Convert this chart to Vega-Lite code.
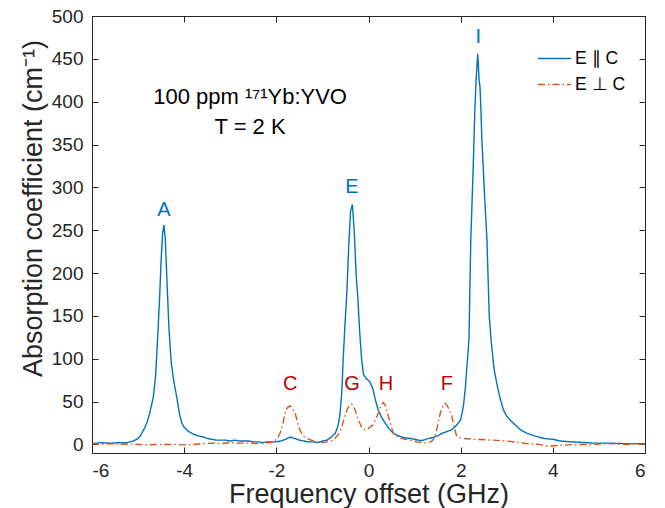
{
  "$schema": "https://vega.github.io/schema/vega-lite/v6.json",
  "width": 553,
  "height": 437,
  "autosize": {"type": "none"},
  "padding": {"left": 92, "top": 16, "right": 20, "bottom": 55},
  "background": "white",
  "config": {
    "font": "Liberation Sans",
    "view": {"stroke": "#262626", "strokeWidth": 1},
    "axis": {
      "grid": false,
      "domainColor": "#262626",
      "tickColor": "#262626",
      "labelColor": "#262626",
      "titleColor": "#262626",
      "labelFont": "Liberation Sans",
      "titleFont": "Liberation Sans",
      "labelFontSize": 19,
      "titleFontSize": 27,
      "titleFontWeight": "normal",
      "tickSize": -6,
      "labelPadding": 14
    }
  },
  "datasets": {
    "spec": [
      {"f": -6.0, "a": 1, "s": "E ∥ C"},
      {"f": -5.8, "a": 2, "s": "E ∥ C"},
      {"f": -5.6, "a": 1.5, "s": "E ∥ C"},
      {"f": -5.4, "a": 2, "s": "E ∥ C"},
      {"f": -5.25, "a": 2, "s": "E ∥ C"},
      {"f": -5.1, "a": 4, "s": "E ∥ C"},
      {"f": -5.0, "a": 7, "s": "E ∥ C"},
      {"f": -4.95, "a": 10, "s": "E ∥ C"},
      {"f": -4.9, "a": 15, "s": "E ∥ C"},
      {"f": -4.85, "a": 20, "s": "E ∥ C"},
      {"f": -4.8, "a": 27, "s": "E ∥ C"},
      {"f": -4.75, "a": 36, "s": "E ∥ C"},
      {"f": -4.7, "a": 48, "s": "E ∥ C"},
      {"f": -4.67, "a": 55, "s": "E ∥ C"},
      {"f": -4.62, "a": 80, "s": "E ∥ C"},
      {"f": -4.57, "a": 130, "s": "E ∥ C"},
      {"f": -4.53, "a": 175, "s": "E ∥ C"},
      {"f": -4.5, "a": 215, "s": "E ∥ C"},
      {"f": -4.47, "a": 245, "s": "E ∥ C"},
      {"f": -4.44, "a": 256, "s": "E ∥ C"},
      {"f": -4.41, "a": 240, "s": "E ∥ C"},
      {"f": -4.38, "a": 200, "s": "E ∥ C"},
      {"f": -4.33, "a": 135, "s": "E ∥ C"},
      {"f": -4.28, "a": 95, "s": "E ∥ C"},
      {"f": -4.22, "a": 72, "s": "E ∥ C"},
      {"f": -4.16, "a": 55, "s": "E ∥ C"},
      {"f": -4.1, "a": 35, "s": "E ∥ C"},
      {"f": -4.05, "a": 25, "s": "E ∥ C"},
      {"f": -4.0, "a": 20, "s": "E ∥ C"},
      {"f": -3.9, "a": 15, "s": "E ∥ C"},
      {"f": -3.8, "a": 12, "s": "E ∥ C"},
      {"f": -3.7, "a": 10, "s": "E ∥ C"},
      {"f": -3.6, "a": 9, "s": "E ∥ C"},
      {"f": -3.5, "a": 7, "s": "E ∥ C"},
      {"f": -3.4, "a": 6, "s": "E ∥ C"},
      {"f": -3.3, "a": 5, "s": "E ∥ C"},
      {"f": -3.2, "a": 5, "s": "E ∥ C"},
      {"f": -3.1, "a": 5, "s": "E ∥ C"},
      {"f": -3.0, "a": 4, "s": "E ∥ C"},
      {"f": -2.9, "a": 5, "s": "E ∥ C"},
      {"f": -2.8, "a": 4, "s": "E ∥ C"},
      {"f": -2.7, "a": 4, "s": "E ∥ C"},
      {"f": -2.6, "a": 4, "s": "E ∥ C"},
      {"f": -2.5, "a": 3, "s": "E ∥ C"},
      {"f": -2.4, "a": 3, "s": "E ∥ C"},
      {"f": -2.3, "a": 2, "s": "E ∥ C"},
      {"f": -2.2, "a": 3, "s": "E ∥ C"},
      {"f": -2.1, "a": 3, "s": "E ∥ C"},
      {"f": -2.0, "a": 3, "s": "E ∥ C"},
      {"f": -1.9, "a": 4, "s": "E ∥ C"},
      {"f": -1.8, "a": 6, "s": "E ∥ C"},
      {"f": -1.7, "a": 8.5, "s": "E ∥ C"},
      {"f": -1.6, "a": 7, "s": "E ∥ C"},
      {"f": -1.5, "a": 5, "s": "E ∥ C"},
      {"f": -1.4, "a": 4, "s": "E ∥ C"},
      {"f": -1.3, "a": 3, "s": "E ∥ C"},
      {"f": -1.2, "a": 3, "s": "E ∥ C"},
      {"f": -1.1, "a": 2, "s": "E ∥ C"},
      {"f": -1.0, "a": 4, "s": "E ∥ C"},
      {"f": -0.9, "a": 5, "s": "E ∥ C"},
      {"f": -0.8, "a": 9, "s": "E ∥ C"},
      {"f": -0.72, "a": 13, "s": "E ∥ C"},
      {"f": -0.66, "a": 22, "s": "E ∥ C"},
      {"f": -0.62, "a": 35, "s": "E ∥ C"},
      {"f": -0.58, "a": 60, "s": "E ∥ C"},
      {"f": -0.55, "a": 99, "s": "E ∥ C"},
      {"f": -0.51, "a": 140, "s": "E ∥ C"},
      {"f": -0.47, "a": 177, "s": "E ∥ C"},
      {"f": -0.43, "a": 230, "s": "E ∥ C"},
      {"f": -0.39, "a": 272, "s": "E ∥ C"},
      {"f": -0.35, "a": 280, "s": "E ∥ C"},
      {"f": -0.31, "a": 250, "s": "E ∥ C"},
      {"f": -0.27, "a": 200, "s": "E ∥ C"},
      {"f": -0.23, "a": 170, "s": "E ∥ C"},
      {"f": -0.19, "a": 130, "s": "E ∥ C"},
      {"f": -0.15, "a": 100, "s": "E ∥ C"},
      {"f": -0.11, "a": 82, "s": "E ∥ C"},
      {"f": -0.05, "a": 77, "s": "E ∥ C"},
      {"f": 0.03, "a": 73, "s": "E ∥ C"},
      {"f": 0.1, "a": 64, "s": "E ∥ C"},
      {"f": 0.15, "a": 52, "s": "E ∥ C"},
      {"f": 0.21, "a": 40, "s": "E ∥ C"},
      {"f": 0.28, "a": 32, "s": "E ∥ C"},
      {"f": 0.36, "a": 25, "s": "E ∥ C"},
      {"f": 0.45, "a": 18, "s": "E ∥ C"},
      {"f": 0.54, "a": 13, "s": "E ∥ C"},
      {"f": 0.65, "a": 10, "s": "E ∥ C"},
      {"f": 0.76, "a": 8, "s": "E ∥ C"},
      {"f": 0.9, "a": 7, "s": "E ∥ C"},
      {"f": 1.0, "a": 6, "s": "E ∥ C"},
      {"f": 1.12, "a": 4.5, "s": "E ∥ C"},
      {"f": 1.2, "a": 5, "s": "E ∥ C"},
      {"f": 1.27, "a": 6.5, "s": "E ∥ C"},
      {"f": 1.4, "a": 8, "s": "E ∥ C"},
      {"f": 1.5, "a": 10, "s": "E ∥ C"},
      {"f": 1.6, "a": 13, "s": "E ∥ C"},
      {"f": 1.7, "a": 15, "s": "E ∥ C"},
      {"f": 1.8, "a": 17, "s": "E ∥ C"},
      {"f": 1.85, "a": 19, "s": "E ∥ C"},
      {"f": 1.92, "a": 23, "s": "E ∥ C"},
      {"f": 2.0, "a": 29, "s": "E ∥ C"},
      {"f": 2.06, "a": 45, "s": "E ∥ C"},
      {"f": 2.1, "a": 65, "s": "E ∥ C"},
      {"f": 2.13, "a": 87, "s": "E ∥ C"},
      {"f": 2.18, "a": 122, "s": "E ∥ C"},
      {"f": 2.22, "a": 239, "s": "E ∥ C"},
      {"f": 2.27, "a": 320, "s": "E ∥ C"},
      {"f": 2.31, "a": 395, "s": "E ∥ C"},
      {"f": 2.34, "a": 430, "s": "E ∥ C"},
      {"f": 2.37, "a": 456, "s": "E ∥ C"},
      {"f": 2.4, "a": 425, "s": "E ∥ C"},
      {"f": 2.42, "a": 417, "s": "E ∥ C"},
      {"f": 2.44, "a": 390, "s": "E ∥ C"},
      {"f": 2.46, "a": 356, "s": "E ∥ C"},
      {"f": 2.51, "a": 300, "s": "E ∥ C"},
      {"f": 2.57, "a": 239, "s": "E ∥ C"},
      {"f": 2.62, "a": 150, "s": "E ∥ C"},
      {"f": 2.66, "a": 122, "s": "E ∥ C"},
      {"f": 2.72, "a": 90, "s": "E ∥ C"},
      {"f": 2.78, "a": 72, "s": "E ∥ C"},
      {"f": 2.85, "a": 55, "s": "E ∥ C"},
      {"f": 2.93, "a": 40, "s": "E ∥ C"},
      {"f": 3.0, "a": 33, "s": "E ∥ C"},
      {"f": 3.1, "a": 27, "s": "E ∥ C"},
      {"f": 3.22, "a": 21, "s": "E ∥ C"},
      {"f": 3.3, "a": 17, "s": "E ∥ C"},
      {"f": 3.44, "a": 13, "s": "E ∥ C"},
      {"f": 3.6, "a": 10, "s": "E ∥ C"},
      {"f": 3.8, "a": 7, "s": "E ∥ C"},
      {"f": 4.0, "a": 6, "s": "E ∥ C"},
      {"f": 4.16, "a": 4, "s": "E ∥ C"},
      {"f": 4.4, "a": 3, "s": "E ∥ C"},
      {"f": 4.6, "a": 2.5, "s": "E ∥ C"},
      {"f": 4.88, "a": 1.5, "s": "E ∥ C"},
      {"f": 5.2, "a": 1.5, "s": "E ∥ C"},
      {"f": 5.5, "a": 1, "s": "E ∥ C"},
      {"f": 5.8, "a": 1, "s": "E ∥ C"},
      {"f": 6.0, "a": 0.5, "s": "E ∥ C"},
      {"f": -6.0, "a": 1, "s": "E ⊥ C"},
      {"f": -5.8, "a": 0, "s": "E ⊥ C"},
      {"f": -5.6, "a": 1, "s": "E ⊥ C"},
      {"f": -5.4, "a": 0, "s": "E ⊥ C"},
      {"f": -5.2, "a": 0.5, "s": "E ⊥ C"},
      {"f": -5.0, "a": 0, "s": "E ⊥ C"},
      {"f": -4.8, "a": -0.5, "s": "E ⊥ C"},
      {"f": -4.6, "a": 0, "s": "E ⊥ C"},
      {"f": -4.4, "a": 0, "s": "E ⊥ C"},
      {"f": -4.2, "a": 0, "s": "E ⊥ C"},
      {"f": -4.0, "a": -0.5, "s": "E ⊥ C"},
      {"f": -3.8, "a": 0, "s": "E ⊥ C"},
      {"f": -3.6, "a": 1, "s": "E ⊥ C"},
      {"f": -3.4, "a": 1.5, "s": "E ⊥ C"},
      {"f": -3.2, "a": 1, "s": "E ⊥ C"},
      {"f": -3.0, "a": 2, "s": "E ⊥ C"},
      {"f": -2.8, "a": 1.5, "s": "E ⊥ C"},
      {"f": -2.6, "a": 1.5, "s": "E ⊥ C"},
      {"f": -2.4, "a": 1, "s": "E ⊥ C"},
      {"f": -2.2, "a": 2, "s": "E ⊥ C"},
      {"f": -2.06, "a": 3, "s": "E ⊥ C"},
      {"f": -1.98, "a": 7, "s": "E ⊥ C"},
      {"f": -1.92, "a": 13, "s": "E ⊥ C"},
      {"f": -1.86, "a": 24, "s": "E ⊥ C"},
      {"f": -1.81, "a": 36, "s": "E ⊥ C"},
      {"f": -1.76, "a": 43, "s": "E ⊥ C"},
      {"f": -1.7, "a": 45, "s": "E ⊥ C"},
      {"f": -1.65, "a": 42, "s": "E ⊥ C"},
      {"f": -1.59, "a": 36, "s": "E ⊥ C"},
      {"f": -1.54, "a": 26, "s": "E ⊥ C"},
      {"f": -1.49, "a": 17, "s": "E ⊥ C"},
      {"f": -1.42, "a": 10, "s": "E ⊥ C"},
      {"f": -1.34, "a": 7, "s": "E ⊥ C"},
      {"f": -1.2, "a": 4, "s": "E ⊥ C"},
      {"f": -1.05, "a": 2, "s": "E ⊥ C"},
      {"f": -0.9, "a": 3, "s": "E ⊥ C"},
      {"f": -0.76, "a": 5, "s": "E ⊥ C"},
      {"f": -0.65, "a": 12, "s": "E ⊥ C"},
      {"f": -0.6, "a": 17, "s": "E ⊥ C"},
      {"f": -0.53, "a": 30, "s": "E ⊥ C"},
      {"f": -0.47, "a": 40, "s": "E ⊥ C"},
      {"f": -0.41, "a": 46, "s": "E ⊥ C"},
      {"f": -0.36, "a": 47, "s": "E ⊥ C"},
      {"f": -0.3, "a": 42, "s": "E ⊥ C"},
      {"f": -0.25, "a": 33, "s": "E ⊥ C"},
      {"f": -0.19, "a": 25, "s": "E ⊥ C"},
      {"f": -0.14, "a": 19, "s": "E ⊥ C"},
      {"f": -0.08, "a": 17, "s": "E ⊥ C"},
      {"f": -0.04, "a": 17, "s": "E ⊥ C"},
      {"f": 0.03, "a": 20, "s": "E ⊥ C"},
      {"f": 0.1, "a": 23, "s": "E ⊥ C"},
      {"f": 0.16, "a": 30, "s": "E ⊥ C"},
      {"f": 0.21, "a": 36, "s": "E ⊥ C"},
      {"f": 0.27, "a": 45, "s": "E ⊥ C"},
      {"f": 0.32, "a": 49, "s": "E ⊥ C"},
      {"f": 0.37, "a": 45, "s": "E ⊥ C"},
      {"f": 0.42, "a": 35, "s": "E ⊥ C"},
      {"f": 0.47, "a": 25, "s": "E ⊥ C"},
      {"f": 0.54, "a": 13, "s": "E ⊥ C"},
      {"f": 0.6, "a": 10, "s": "E ⊥ C"},
      {"f": 0.68, "a": 8, "s": "E ⊥ C"},
      {"f": 0.8, "a": 6, "s": "E ⊥ C"},
      {"f": 0.9, "a": 5, "s": "E ⊥ C"},
      {"f": 1.05, "a": 3, "s": "E ⊥ C"},
      {"f": 1.26, "a": 1.5, "s": "E ⊥ C"},
      {"f": 1.35, "a": 3, "s": "E ⊥ C"},
      {"f": 1.4, "a": 5, "s": "E ⊥ C"},
      {"f": 1.46, "a": 12, "s": "E ⊥ C"},
      {"f": 1.51, "a": 25, "s": "E ⊥ C"},
      {"f": 1.56, "a": 37, "s": "E ⊥ C"},
      {"f": 1.62, "a": 46, "s": "E ⊥ C"},
      {"f": 1.66, "a": 48, "s": "E ⊥ C"},
      {"f": 1.71, "a": 45, "s": "E ⊥ C"},
      {"f": 1.76, "a": 40, "s": "E ⊥ C"},
      {"f": 1.81, "a": 33, "s": "E ⊥ C"},
      {"f": 1.86, "a": 20, "s": "E ⊥ C"},
      {"f": 1.91, "a": 10, "s": "E ⊥ C"},
      {"f": 1.98, "a": 8, "s": "E ⊥ C"},
      {"f": 2.05, "a": 7, "s": "E ⊥ C"},
      {"f": 2.3, "a": 6, "s": "E ⊥ C"},
      {"f": 2.7, "a": 5, "s": "E ⊥ C"},
      {"f": 3.0, "a": 4, "s": "E ⊥ C"},
      {"f": 3.43, "a": 1, "s": "E ⊥ C"},
      {"f": 3.7, "a": 0, "s": "E ⊥ C"},
      {"f": 3.9, "a": -2, "s": "E ⊥ C"},
      {"f": 4.2, "a": -1, "s": "E ⊥ C"},
      {"f": 4.5, "a": 0, "s": "E ⊥ C"},
      {"f": 4.87, "a": 0, "s": "E ⊥ C"},
      {"f": 5.2, "a": 1, "s": "E ⊥ C"},
      {"f": 5.6, "a": 0, "s": "E ⊥ C"},
      {"f": 6.0, "a": 1, "s": "E ⊥ C"}
    ],
    "bluelabels": [
      {"f": -4.44, "a": 274, "t": "A"},
      {"f": -0.36, "a": 301, "t": "E"},
      {"f": 2.38, "a": 476, "t": "I"}
    ],
    "redlabels": [
      {"f": -1.7, "a": 70, "t": "C"},
      {"f": -0.36, "a": 70, "t": "G"},
      {"f": 0.38, "a": 70, "t": "H"},
      {"f": 1.7, "a": 70, "t": "F"}
    ],
    "notes": [
      {"f": -2.57, "a": 406, "t": "100 ppm ¹⁷¹Yb:YVO"},
      {"f": -2.57, "a": 371, "t": "T = 2 K"}
    ]
  },
  "resolve": {"axis": {"x": "independent", "y": "independent"}},
  "layer": [
    {
      "data": {"name": "spec"},
      "mark": {"type": "line", "strokeWidth": 1.4, "clip": true},
      "encoding": {
        "x": {
          "field": "f", "type": "quantitative",
          "scale": {"domain": [-6, 6], "nice": false, "zero": false},
          "axis": {"orient": "bottom", "values": [-6, -4, -2, 0, 2, 4, 6], "labelExpr": "'' + datum.value", "title": "Frequency offset (GHz)", "titlePadding": 1}
        },
        "y": {
          "field": "a", "type": "quantitative",
          "scale": {"domain": [-10, 500], "nice": false, "zero": false},
          "axis": {"orient": "left", "values": [0, 50, 100, 150, 200, 250, 300, 350, 400, 450, 500], "labelPadding": 15, "title": "Absorption coefficient (cm⁻¹)", "titleX": -59, "titleY": 192, "titleBaseline": "middle", "titleAlign": "center", "titleAngle": -90}
        },
        "color": {
          "field": "s", "type": "nominal",
          "scale": {"domain": ["E ∥ C", "E ⊥ C"], "range": ["#0072BD", "#D95319"]},
          "legend": {
            "title": null, "orient": "none", "legendX": 445, "legendY": 25,
            "symbolType": "stroke", "symbolSize": 1089, "symbolStrokeWidth": 1.5,
            "labelFontSize": 17.5, "labelColor": "#000000", "labelFont": "Liberation Sans",
            "padding": 0, "rowPadding": -17, "labelOffset": 3
          }
        },
        "strokeDash": {
          "field": "s", "type": "nominal",
          "scale": {"domain": ["E ∥ C", "E ⊥ C"], "range": [[1, 0], [7, 3, 1.5, 3]]},
          "legend": {
            "title": null, "orient": "none", "legendX": 445, "legendY": 25,
            "symbolType": "stroke", "symbolSize": 1089, "symbolStrokeWidth": 1.5,
            "labelFontSize": 17.5, "labelColor": "#000000", "labelFont": "Liberation Sans",
            "padding": 0, "rowPadding": -17, "labelOffset": 3
          }
        }
      }
    },
    {
      "data": {"name": "bluelabels"},
      "mark": {"type": "text", "fontSize": 20, "color": "#0072BD", "baseline": "middle", "align": "center"},
      "encoding": {
        "x": {"field": "f", "type": "quantitative", "axis": null},
        "y": {"field": "a", "type": "quantitative", "axis": null},
        "text": {"field": "t"}
      }
    },
    {
      "data": {"name": "redlabels"},
      "mark": {"type": "text", "fontSize": 20, "color": "#C00000", "baseline": "middle", "align": "center"},
      "encoding": {
        "x": {"field": "f", "type": "quantitative", "axis": null},
        "y": {"field": "a", "type": "quantitative", "axis": null},
        "text": {"field": "t"}
      }
    },
    {
      "data": {"name": "notes"},
      "mark": {"type": "text", "fontSize": 22, "color": "#000000", "baseline": "middle", "align": "center"},
      "encoding": {
        "x": {"field": "f", "type": "quantitative", "axis": null},
        "y": {"field": "a", "type": "quantitative", "axis": null},
        "text": {"field": "t"}
      }
    },
    {
      "data": {"name": "notes"},
      "mark": {"type": "point", "opacity": 0},
      "encoding": {
        "x": {"field": "f", "type": "quantitative", "axis": {"orient": "top", "values": [-6, -4, -2, 0, 2, 4, 6], "labels": false, "title": null}},
        "y": {"field": "a", "type": "quantitative", "axis": {"orient": "right", "values": [0, 50, 100, 150, 200, 250, 300, 350, 400, 450, 500], "labels": false, "title": null}}
      }
    }
  ]
}
